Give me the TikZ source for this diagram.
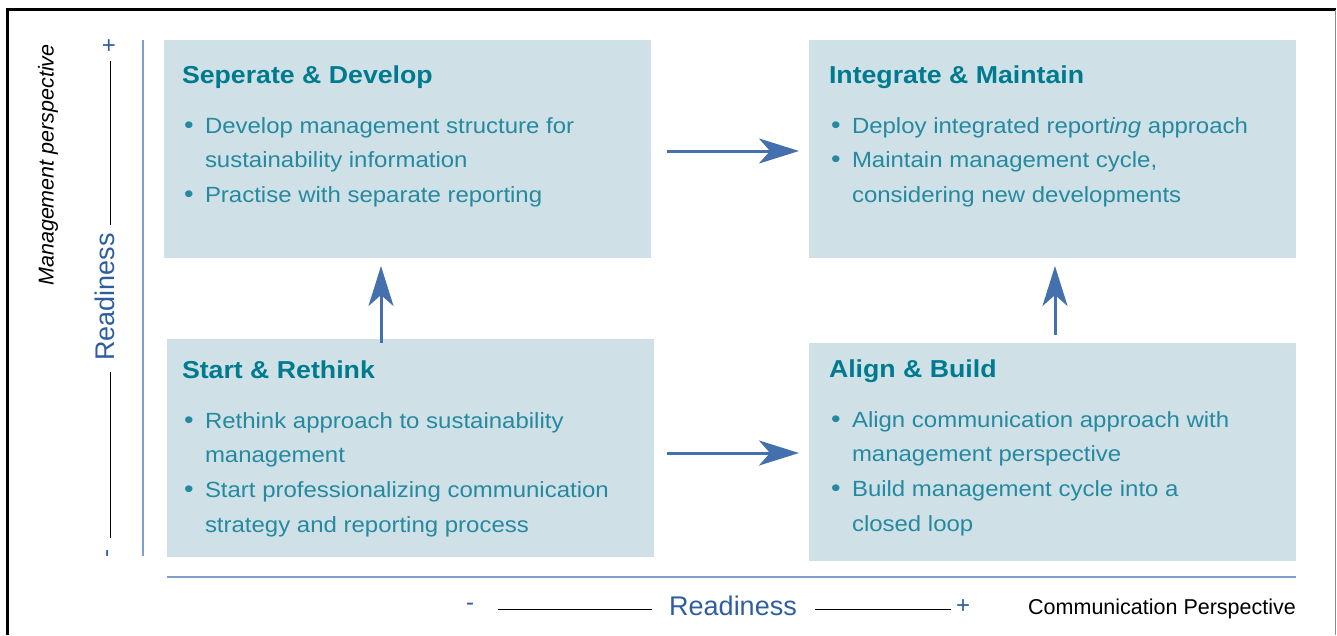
\documentclass[tikz,border=0pt]{standalone}
\usepackage{fontspec}
\setmainfont{Liberation Sans}
\newfontfamily\bodyfont[FakeStretch=1.09]{Liberation Sans}
\usetikzlibrary{arrows.meta}

\definecolor{boxfill}{HTML}{CFE1E7}
\definecolor{titlecol}{HTML}{007A8E}
\definecolor{bodycol}{HTML}{2589A0}
\definecolor{flowcol}{HTML}{4470AE}
\definecolor{axisblue}{HTML}{7F9FCB}
\definecolor{axistext}{HTML}{2E5EA0}
\definecolor{framegray}{HTML}{8C8C8C}

% one bullet point with a hanging indent
\newcommand{\bitem}[1]{\par\hangindent=23pt\hangafter=1\noindent
  \makebox[23pt][l]{\hspace{2pt}{\fontsize{25}{25}\selectfont\textbullet}}#1}
% title plus bullet list of one quadrant
\newcommand{\panel}[2]{\parbox[t]{470pt}{\setlength{\parindent}{0pt}%
  \setlength{\parskip}{0pt}\bodyfont
  \noindent{\color{titlecol}\fontsize{24.5}{34.7}\selectfont\bfseries #1\par}%
  \vspace{15.3pt}%
  \color{bodycol}\fontsize{22}{34.7}\selectfont #2\par}}

\tikzset{
  panelbox/.style={fill=boxfill, draw=none, inner sep=0pt, outer sep=0pt,
    minimum width=487pt, minimum height=218pt, anchor=north west},
  paneltext/.style={anchor=base west, inner sep=0pt, outer sep=0pt},
  flow/.style={draw=flowcol, line width=3pt,
    -{Stealth[length=40pt, width=25pt, inset=11pt, fill=flowcol]}},
  axisline/.style={draw=black, line width=1pt},
  blueaxis/.style={draw=axisblue, line width=2pt},
  axislabel/.style={text=axistext, font=\fontsize{27}{30}\selectfont, inner sep=0pt},
  sign/.style={text=axistext, font=\fontsize{24}{26}\selectfont, inner sep=0pt},
}

\begin{document}
\begin{tikzpicture}[x=1pt, y=-1pt]
\useasboundingbox (0,0) rectangle (1337,635);

% outer frame, open at the bottom
\draw[black, line width=2.5pt] (7.5,635) -- (7.5,9.5) -- (1336,9.5);
\draw[framegray, line width=1.5pt] (1335.5,9.5) -- (1335.5,635);

% quadrant boxes
\node[panelbox] (tl) at (164,40) {};
\node[panelbox] (tr) at (809,40) {};
\node[panelbox] (bl) at (167,339) {};
\node[panelbox] (br) at (809,343) {};

% quadrant texts
\node[paneltext] (tltext) at (182,83) {\panel{Seperate \& Develop}{%
  \bitem{Develop management structure for\\sustainability information}%
  \bitem{Practise with separate reporting}}};
\node[paneltext] (trtext) at (829,83) {\panel{Integrate \& Maintain}{%
  \bitem{Deploy integrated report\textit{ing} approach}%
  \bitem{Maintain management cycle,\\considering new developments}}};
\node[paneltext] (bltext) at (182,378) {\panel{Start \& Rethink}{%
  \bitem{Rethink approach to sustainability\\management}%
  \bitem{Start professionalizing communication\\strategy and reporting process}}};
\node[paneltext] (brtext) at (829,377) {\panel{Align \& Build}{%
  \bitem{Align communication approach with\\management perspective}%
  \bitem{Build management cycle into a\\closed loop}}};

% flow arrows between the quadrants
\coordinate (ytop) at (0,151);
\coordinate (ybot) at (0,453);
\coordinate (xleft) at (381,0);
\coordinate (xright) at (1055,0);
\draw[flow, shorten <=16pt, shorten >=10pt] (tl.east |- ytop) -- (tr.west |- ytop);
\draw[flow, shorten <=13pt, shorten >=10pt] (bl.east |- ybot) -- (br.west |- ybot);
\draw[flow, shorten <=-4pt, shorten >=8pt] (bl.north -| xleft) -- (tl.south -| xleft);
\draw[flow, shorten <=8pt, shorten >=8pt] (br.north -| xright) -- (tr.south -| xright);

% blue axis lines
\draw[blueaxis] (143,40) -- (143,556);
\draw[blueaxis] (167,577) -- (1296,577);

% vertical axis: management perspective
\node[rotate=90, inner sep=0pt, font=\fontsize{21.5}{24}\selectfont\itshape] (mgmt) at (48,165) {Management perspective};
\node[sign] (lplus) at (109,47) {+};
\node[axislabel, rotate=90] (lread) at (105,297) {Readiness};
\node[sign, rotate=90] (lminus) at (110,553) {-};
\draw[axisline] (110,61) -- (110,225);
\draw[axisline] (110,372) -- (110,538);

% horizontal axis: communication perspective
\node[sign] (bminus) at (470,607) {-};
\node[axislabel] (bread) at (733,606) {Readiness};
\node[sign] (bplus) at (963,607) {+};
\draw[axisline] (498,609) -- (652,609);
\draw[axisline] (815,609) -- (951,609);
\node[anchor=base west, inner sep=0pt, font=\fontsize{21.5}{24}\selectfont] (comm) at (1028,614) {Communication Perspective};

\end{tikzpicture}
\end{document}
